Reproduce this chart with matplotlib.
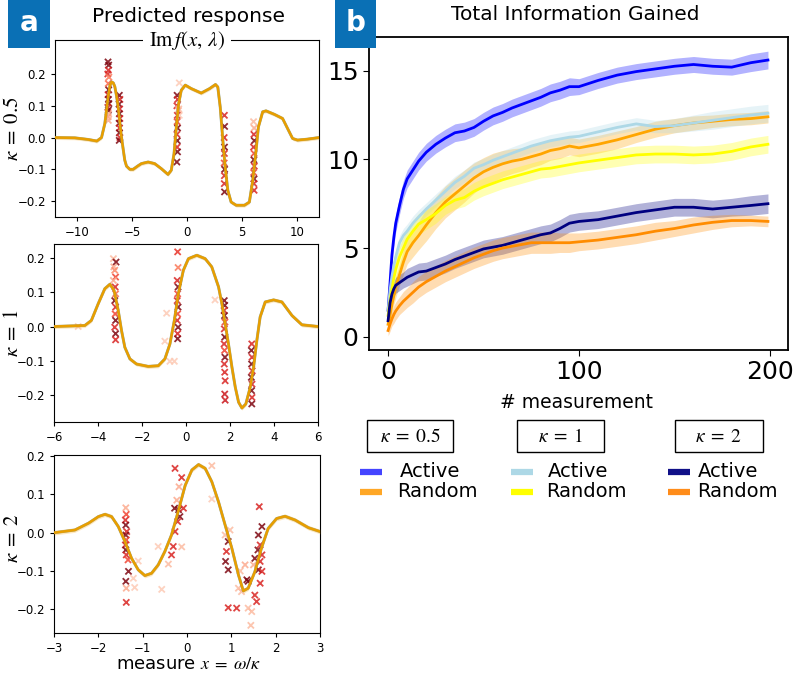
import numpy as np
import matplotlib.pyplot as plt
from matplotlib.patches import Rectangle
from matplotlib.lines import Line2D

plt.rcParams['mathtext.fontset'] = 'stix'

# ---- panel a: predicted response Im f(x, lambda) ----
k05_x = [-12, -10.2, -9, -8.2, -7.77, -7.47, -7.17, -7.0, -6.86, -6.7, -6.56, -6.4, -6.26,
         -5.96, -5.66, -5.5, -5.2, -4.9, -4.5, -4.15, -3.54, -2.94, -2.33, -1.73, -1.43,
         -1.18, -0.97, -0.76, -0.52, -0.16, 0.39, 1.29, 2.05, 2.59, 2.8, 3.02, 3.26, 3.47,
         3.71, 4.01, 4.47, 5.22, 5.67, 5.98, 6.28, 6.49, 6.88, 7.18, 7.94, 8.69, 9.15, 9.6,
         10.05, 10.96, 12]
k05_y = [0, -0.001, -0.006, -0.011, 0.0, 0.044, 0.128, 0.165, 0.175, 0.172, 0.16, 0.13, 0.096,
         0.002, -0.071, -0.09, -0.1, -0.1, -0.09, -0.082, -0.077, -0.082, -0.098, -0.116, -0.103,
         -0.051, 0.033, 0.107, 0.149, 0.165, 0.154, 0.14, 0.154, 0.167, 0.159, 0.096, -0.009, -0.093,
         -0.166, -0.203, -0.213, -0.213, -0.203, -0.134, -0.04, 0.033, 0.081, 0.084, 0.073, 0.06,
         0.028, -0.003, -0.008, -0.005, 0]

k1_x = [-6, -4.6, -4.3, -3.99, -3.69, -3.46, -3.27, -3.08, -2.93, -2.78, -2.55, -2.25, -1.72,
        -1.26, -0.96, -0.73, -0.53, -0.35, -0.12, 0.11, 0.49, 0.87, 1.17, 1.48, 1.63, 1.78, 1.93,
        2.09, 2.24, 2.39, 2.54, 2.72, 2.92, 3.07, 3.22, 3.37, 3.6, 3.98, 4.36, 4.82, 5.27, 6]
k1_y = [0, 0.003, 0.018, 0.067, 0.111, 0.124, 0.106, 0.047, -0.012, -0.061, -0.095, -0.11, -0.117,
        -0.115, -0.095, -0.051, 0.018, 0.096, 0.165, 0.199, 0.209, 0.199, 0.175, 0.116, 0.067, 0.008,
        -0.051, -0.12, -0.178, -0.222, -0.239, -0.227, -0.178, -0.12, -0.041, 0.028, 0.072, 0.078,
        0.072, 0.032, 0.005, 0]

k2_x = [-3, -2.53, -2.22, -2.0, -1.85, -1.7, -1.55, -1.4, -1.25, -1.1, -0.95, -0.8, -0.65, -0.5,
        -0.35, -0.2, -0.04, 0.11, 0.26, 0.41, 0.56, 0.71, 0.86, 1.01, 1.16, 1.27, 1.38, 1.53, 1.68,
        1.83, 2.02, 2.21, 2.44, 2.74, 3.0]
k2_y = [0, 0.007, 0.025, 0.042, 0.048, 0.042, 0.016, -0.023, -0.067, -0.097, -0.112, -0.106,
        -0.084, -0.049, -0.006, 0.055, 0.124, 0.164, 0.178, 0.168, 0.133, 0.081, 0.02, -0.04,
        -0.11, -0.152, -0.145, -0.102, -0.04, 0.011, 0.037, 0.043, 0.033, 0.013, 0.003]

# measured points: x, y, shade (0 light .. 1 dark)
k05_px = [-7.18, -7.12, -7.15, -7.2, -7.1, -7.16, -7.12, -7.18, -7.14, -7.1, -7.2, -7.15, -7.12, -7.18, -7.15,
          -6.15, -6.1, -6.18, -6.12, -6.15, -6.1, -6.17, -6.13, -6.15, -6.1, -6.16,
          -0.9, -0.85, -0.92, -0.78, -0.88, -0.9, -0.86, -0.92, -0.88, -0.9, -0.86, -0.92, -0.7, -0.75, -0.7,
          3.4, 3.42, 3.38, 3.41, 3.4, 3.38, 3.42, 3.4, 3.39, 3.41,
          6.05, 6.1, 6.08, 6.12, 6.05, 6.1, 6.08, 6.12, 6.06, 6.1, 6.08, 6.1]
k05_py = [0.238, 0.228, 0.212, 0.2, 0.19, 0.17, 0.15, 0.135, 0.12, 0.107, 0.095, 0.086, 0.075, 0.065, 0.054,
          0.133, 0.12, 0.105, 0.09, 0.075, 0.06, 0.045, 0.03, 0.015, 0.0, -0.009,
          0.133, 0.12, 0.1, 0.085, 0.07, 0.05, 0.03, 0.01, -0.01, -0.03, -0.045, -0.077, 0.172, 0.09, 0.07,
          0.07, 0.035, 0.0, -0.03, -0.05, -0.08, -0.1, -0.12, -0.145, -0.171,
          0.05, 0.03, 0.01, -0.01, -0.03, -0.05, -0.07, -0.09, -0.11, -0.13, -0.145, -0.166]
k05_ps = [0.95, 0.95, 0.7, 0.7, 0.45, 0.5, 0.95, 0.7, 0.95, 0.95, 0.7, 0.95, 0.3, 0.35, 0.3,
          0.95, 0.7, 0.95, 0.7, 0.95, 0.7, 0.95, 0.7, 0.95, 0.7, 0.95,
          0.95, 0.7, 0.7, 0.3, 0.7, 0.6, 0.95, 0.7, 0.95, 0.7, 0.95, 0.95, 0.2, 0.25, 0.2,
          0.7, 0.95, 0.7, 0.95, 0.7, 0.6, 0.95, 0.7, 0.7, 0.95,
          0.25, 0.3, 0.7, 0.95, 0.7, 0.6, 0.95, 0.7, 0.6, 0.95, 0.7, 0.7]

k1_px = [-3.3, -3.18, -3.28, -3.24, -3.2, -3.3, -3.22, -3.2, -3.24, -3.2, -3.22, -3.2, -3.24, -3.2, -3.2,
         -0.38, -0.36, -0.4, -0.36, -0.38, -0.4, -0.36, -0.38, -0.4, -0.36, -0.38, -0.38,
         -0.88, -0.96, -0.73, -0.53,
         1.74, 1.76, 1.73, 1.75, 1.77, 1.74, 1.76, 1.73, 1.75, 1.77, 1.74, 1.76, 1.78, 1.76, 1.78, 1.32,
         2.99, 2.97, 3.0, 2.98, 3.01, 2.97, 3.0, 2.98, 3.0, 2.99, -4.9]
k1_py = [0.199, 0.189, 0.175, 0.165, 0.145, 0.135, 0.116, 0.096, 0.076, 0.057, 0.037, 0.018, -0.002, -0.021, -0.039,
         0.219, 0.173, 0.135, 0.116, 0.096, 0.076, 0.057, 0.037, 0.018, -0.002, -0.021, -0.036,
         0.039, -0.043, -0.102, -0.102,
         0.076, 0.062, 0.047, 0.032, 0.013, -0.007, -0.031, -0.051, -0.07, -0.09, -0.11, -0.134, -0.159,
         -0.198, -0.216, 0.078,
         -0.051, -0.07, -0.09, -0.11, -0.13, -0.149, -0.169, -0.188, -0.208, -0.227, 0.0]
k1_ps = [0.25, 0.95, 0.3, 0.4, 0.6, 0.3, 0.7, 0.5, 0.95, 0.7, 0.6, 0.95, 0.7, 0.95, 0.7,
         0.65, 0.45, 0.7, 0.95, 0.6, 0.7, 0.95, 0.6, 0.7, 0.95, 0.7, 0.95,
         0.2, 0.2, 0.2, 0.2,
         0.95, 0.95, 0.7, 0.95, 0.6, 0.7, 0.95, 0.7, 0.6, 0.95, 0.7, 0.7, 0.7, 0.75, 0.75, 0.2,
         0.7, 0.95, 0.7, 0.95, 0.7, 0.95, 0.7, 0.95, 0.7, 0.95, 0.2]

k2_px = [-1.38, -1.37, -1.39, -1.38, -1.36, -1.38, -1.37, -1.39, -1.38, -1.37, -1.33, -1.32, -1.38, -1.37, -1.37,
         -1.21, -1.1, -1.18,
         -0.27, -0.12, -0.18, -0.23, -0.28, -0.19, -0.08, -0.16, -0.21, -0.27, -0.31, -0.35, -0.12, -0.42,
         -0.57, -0.65, 0.56, 0.56,
         0.86, 0.97, 0.93, 0.89, 0.87, 0.93,
         1.63, 1.69, 1.61, 1.65, 1.6, 1.69, 1.53, 1.65, 1.61, 1.69, 1.5, 1.35, 1.38, 1.2, 1.31, 1.23,
         1.53, 1.57, 1.38, 1.46, 1.12, 0.93, 1.44, 1.16, 1.65]
k2_py = [0.065, 0.048, 0.033, 0.02, 0.003, -0.006, -0.019, -0.032, -0.045, -0.058, -0.071, -0.101, -0.127, -0.145, -0.182,
         -0.119, -0.074, -0.143,
         0.168, 0.144, 0.12, 0.085, 0.064, 0.06, 0.064, 0.042, 0.029, 0.003, -0.036, -0.058, -0.037, -0.082,
         -0.148, -0.036, 0.088, 0.175,
         -0.006, 0.007, -0.023, -0.049, -0.075, -0.097,
         0.068, 0.016, -0.006, -0.032, -0.045, -0.058, -0.067, -0.075, -0.097, -0.101, -0.084, -0.123, -0.127,
         -0.1, -0.084, -0.154,
         -0.163, -0.18, -0.197, -0.206, -0.197, -0.196, -0.242, -0.145, -0.132]
k2_ps = [0.3, 0.6, 0.7, 0.95, 0.7, 0.95, 0.6, 0.7, 0.95, 0.7, 0.6, 0.95, 0.95, 0.3, 0.7,
         0.2, 0.2, 0.2,
         0.7, 0.7, 0.3, 0.3, 0.95, 0.95, 0.7, 0.95, 0.7, 0.7, 0.7, 0.7, 0.25, 0.25,
         0.2, 0.2, 0.2, 0.25,
         0.25, 0.25, 0.95, 0.7, 0.95, 0.95,
         0.7, 0.95, 0.95, 0.7, 0.95, 0.7, 0.95, 0.7, 0.95, 0.7, 0.3, 0.95, 0.95, 0.25, 0.3, 0.25,
         0.7, 0.7, 0.25, 0.25, 0.7, 0.7, 0.25, 0.25, 0.7]

# ---- panel b: total information gained ----
n_meas = [0, 1, 2, 3, 4, 6, 8, 10, 13, 16, 20, 25, 30, 35, 40, 45, 50, 55, 60, 65, 70, 75, 80,
          85, 90, 95, 100, 110, 120, 130, 140, 150, 160, 170, 180, 190, 199]
k05_active = [1.5, 3.0, 4.6, 5.6, 6.4, 7.4, 8.3, 8.9, 9.4, 9.9, 10.4, 10.85, 11.2, 11.5, 11.6, 11.8,
              12.15, 12.45, 12.65, 12.9, 13.1, 13.3, 13.5, 13.75, 13.9, 14.1, 14.1, 14.45, 14.75,
              14.95, 15.1, 15.25, 15.35, 15.25, 15.2, 15.45, 15.6]
k05_active_sd = [0.3, 0.4, 0.5, 0.5, 0.5, 0.5, 0.5, 0.5, 0.5, 0.5, 0.5, 0.5, 0.5, 0.5, 0.5, 0.5, 0.5,
                 0.5, 0.5, 0.5, 0.5, 0.5, 0.5, 0.5, 0.5, 0.5, 0.45, 0.45, 0.45, 0.45, 0.45, 0.45,
                 0.45, 0.45, 0.45, 0.5, 0.5]
k05_random = [0.7, 1.2, 1.8, 2.3, 2.8, 3.5, 4.2, 4.8, 5.3, 5.7, 6.3, 7.0, 7.6, 8.05, 8.5, 8.95, 9.3,
              9.55, 9.75, 9.9, 10.0, 10.15, 10.3, 10.5, 10.6, 10.75, 10.65, 10.85, 11.1, 11.4, 11.7,
              11.9, 12.05, 12.15, 12.25, 12.3, 12.4]
k05_random_sd = [0.3, 0.4, 0.5, 0.5, 0.6, 0.6, 0.7, 0.7, 0.8, 0.8, 0.9, 0.9, 0.9, 0.9, 0.9, 0.85, 0.8,
                 0.8, 0.75, 0.7, 0.65, 0.6, 0.6, 0.55, 0.55, 0.5, 0.5, 0.5, 0.5, 0.45, 0.45, 0.4,
                 0.4, 0.35, 0.35, 0.35, 0.35]
k1_active = [1.5, 2.6, 3.4, 4.0, 4.5, 5.3, 5.7, 5.95, 6.4, 6.75, 7.2, 7.7, 8.2, 8.7, 9.05, 9.5, 9.7,
             9.95, 10.15, 10.35, 10.55, 10.75, 10.9, 11.05, 11.15, 11.25, 11.3, 11.55, 11.8, 12.0,
             11.85, 11.9, 12.05, 12.2, 12.35, 12.5, 12.6]
k1_active_sd = [0.4, 0.4, 0.4, 0.4, 0.4, 0.4, 0.4, 0.4, 0.4, 0.4, 0.35, 0.35, 0.35, 0.35, 0.35, 0.35,
                0.35, 0.35, 0.35, 0.35, 0.35, 0.35, 0.35, 0.35, 0.35, 0.35, 0.35, 0.35, 0.35, 0.35,
                0.35, 0.4, 0.45, 0.5, 0.5, 0.5, 0.5]
k1_random = [1.2, 2.0, 2.7, 3.3, 3.8, 4.5, 5.0, 5.5, 5.95, 6.35, 6.6, 6.95, 7.4, 7.7, 7.85, 8.2, 8.45,
             8.65, 8.85, 9.0, 9.15, 9.3, 9.45, 9.5, 9.6, 9.7, 9.8, 9.95, 10.1, 10.25, 10.3, 10.3,
             10.25, 10.3, 10.45, 10.7, 10.85]
k1_random_sd = [0.5, 0.6, 0.6, 0.6, 0.6, 0.6, 0.6, 0.6, 0.6, 0.6, 0.55, 0.55, 0.5, 0.5, 0.5, 0.5, 0.5,
                0.5, 0.5, 0.5, 0.5, 0.5, 0.5, 0.5, 0.5, 0.5, 0.5, 0.5, 0.5, 0.5, 0.5, 0.5, 0.5,
                0.5, 0.5, 0.5, 0.5]
k2_active = [0.9, 1.9, 2.4, 2.7, 2.9, 3.05, 3.2, 3.35, 3.5, 3.65, 3.7, 3.9, 4.1, 4.35, 4.55, 4.75,
             4.95, 5.05, 5.15, 5.3, 5.45, 5.6, 5.75, 5.85, 6.1, 6.4, 6.5, 6.6, 6.8, 7.0, 7.15, 7.3,
             7.3, 7.2, 7.3, 7.4, 7.5]
k2_active_sd = [0.3, 0.4, 0.4, 0.4, 0.45, 0.45, 0.45, 0.5, 0.5, 0.5, 0.5, 0.5, 0.5, 0.5, 0.5, 0.5,
                0.5, 0.5, 0.5, 0.5, 0.5, 0.5, 0.5, 0.5, 0.5, 0.5, 0.5, 0.5, 0.5, 0.5, 0.5, 0.5,
                0.5, 0.5, 0.5, 0.55, 0.55]
k2_random = [0.35, 0.7, 1.0, 1.25, 1.45, 1.75, 2.0, 2.2, 2.5, 2.8, 3.1, 3.4, 3.7, 3.95, 4.2, 4.45,
             4.65, 4.85, 5.0, 5.1, 5.2, 5.3, 5.3, 5.3, 5.3, 5.3, 5.35, 5.45, 5.6, 5.75, 5.95, 6.1,
             6.3, 6.45, 6.55, 6.55, 6.5]
k2_random_sd = [0.3, 0.4, 0.4, 0.5, 0.5, 0.5, 0.55, 0.55, 0.6, 0.6, 0.6, 0.6, 0.6, 0.6, 0.6, 0.6,
                0.6, 0.6, 0.6, 0.6, 0.6, 0.6, 0.6, 0.6, 0.55, 0.55, 0.5, 0.5, 0.5, 0.5, 0.5, 0.45,
                0.45, 0.4, 0.35, 0.3, 0.3]

W, H = 798, 678
fig = plt.figure(figsize=(W / 100, H / 100), dpi=100)


def px_rect(l, t, r, b):
    return [l / W, 1 - b / H, (r - l) / W, (b - t) / H]


def fx(x):
    return x / W


def fy(y):
    return 1 - y / H


def response_panel(ax, cx, cy, mx, my, ms, xlim, ylim, xticks):
    cx, cy = np.array(cx), np.array(cy)
    ax.scatter(mx, my, c=ms, cmap='Reds', vmin=0, vmax=1, marker='x', s=20,
               linewidths=1.3, alpha=0.85, zorder=2)
    ax.plot(cx, cy, color='#5f8a86', lw=2.1, alpha=0.7, zorder=3)
    ax.fill_between(cx, cy - 0.006, cy + 0.006, color='orange', alpha=0.25, lw=0, zorder=3)
    ax.plot(cx, cy, color='#e89e00', lw=1.8, zorder=4)
    ax.set_xlim(xlim)
    ax.set_ylim(ylim)
    ax.set_xticks(xticks)
    ax.set_yticks([-0.2, -0.1, 0.0, 0.1, 0.2])
    ax.tick_params(labelsize=8.5, length=3)


ax1 = fig.add_axes(px_rect(55, 40, 319, 217))
ax2 = fig.add_axes(px_rect(54, 244, 318, 422))
ax3 = fig.add_axes(px_rect(54, 455, 320, 633))
response_panel(ax1, k05_x, k05_y, k05_px, k05_py, k05_ps, (-12, 12), (-0.25, 0.307), [-10, -5, 0, 5, 10])
response_panel(ax2, k1_x, k1_y, k1_px, k1_py, k1_ps, (-6, 6), (-0.28, 0.242), [-6, -4, -2, 0, 2, 4, 6])
response_panel(ax3, k2_x, k2_y, k2_px, k2_py, k2_ps, (-3, 3), (-0.262, 0.203), [-3, -2, -1, 0, 1, 2, 3])

ax1.text(0.5, 1.0, r'$\mathrm{Im}\,f(x,\/\lambda)$', transform=ax1.transAxes, ha='center', va='center',
         fontsize=15, zorder=10,
         bbox=dict(boxstyle='square,pad=0.3', facecolor='white', edgecolor='none'))

for ypix, lab in [(129, r'$\kappa\;=\;0.5$'), (333, r'$\kappa\;=\;1$'), (538, r'$\kappa\;=\;2$')]:
    fig.text(fx(12), fy(ypix), lab, rotation=90, ha='center', va='center', fontsize=15)

fig.text(fx(188), fy(16), 'Predicted response', ha='center', va='center', fontsize=14.5)
fig.text(fx(189), fy(664), r'measure $x\;=\;\omega/\kappa$', ha='center', va='center', fontsize=13)

# ---- panel b ----
axb = fig.add_axes(px_rect(369, 37, 788, 350))
series = [
    (k05_active, k05_active_sd, 'blue'),
    (k05_random, k05_random_sd, 'orange'),
    (k1_active, k1_active_sd, 'lightblue'),
    (k1_random, k1_random_sd, 'yellow'),
    (k2_active, k2_active_sd, 'navy'),
    (k2_random, k2_random_sd, 'darkorange'),
]
n = np.array(n_meas)
for mean, sd, col in series:
    mean, sd = np.array(mean), np.array(sd)
    axb.fill_between(n, mean - sd, mean + sd, color=col, alpha=0.3, lw=0)
    axb.plot(n, mean, color=col, lw=2)

axb.set_xlim(-10, 209.5)
axb.set_ylim(-0.75, 16.9)
axb.set_xticks([0, 100, 200])
axb.set_yticks([0, 5, 10, 15])
axb.tick_params(labelsize=18, length=4)
for sp in axb.spines.values():
    sp.set_linewidth(1.3)

fig.text(fx(575), fy(14), 'Total Information Gained', ha='center', va='center', fontsize=14.5)
fig.text(fx(576), fy(402), '# measurement', ha='center', va='center', fontsize=13.5)

# legend blocks under panel b
groups = [
    (366.7, 453.3, r'$\kappa\;=\;0.5$', '#4444ff', '#ffa726', 360, 400, 397),
    (517.3, 604.3, r'$\kappa\;=\;1$', 'lightblue', 'yellow', 511, 548, 546),
    (675.0, 762.7, r'$\kappa\;=\;2$', '#101088', '#ff8c1a', 668, 698, 697),
]
for l, r, lab, c_act, c_rnd, hx, tx_a, tx_r in groups:
    fig.add_artist(Rectangle((fx(l), fy(451.7)), (r - l) / W, 31.7 / H, facecolor='white',
                             edgecolor='black', lw=1.0, transform=fig.transFigure))
    fig.text(fx((l + r) / 2), fy(436), lab, ha='center', va='center', fontsize=14)
    for ypix, col, tx, name in [(471.5, c_act, tx_a, 'Active'), (491.5, c_rnd, tx_r, 'Random')]:
        fig.add_artist(Line2D([fx(hx), fx(hx + 22)], [fy(ypix), fy(ypix)], color=col, lw=4.5,
                              solid_capstyle='butt'))
        fig.text(fx(tx), fy(ypix), name, ha='left', va='center', fontsize=14)

# panel letters
for l, r, cx, letter in [(8, 50, 29.5, 'a'), (335, 376, 355.5, 'b')]:
    fig.add_artist(Rectangle((fx(l), fy(48)), (r - l) / W, 48 / H, facecolor='#0a70b5',
                             edgecolor='none', transform=fig.transFigure))
    fig.text(fx(cx), fy(23), letter, color='white', fontweight='bold', ha='center', va='center',
             fontsize=20)

fig.savefig('out.png', dpi=100)
